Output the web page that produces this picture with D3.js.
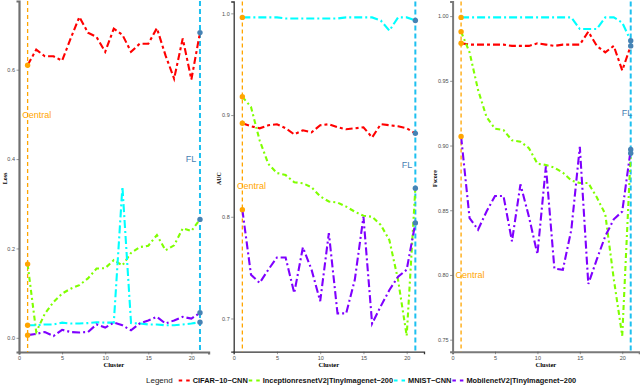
<!DOCTYPE html>
<html>
<head>
<meta charset="utf-8">
<script src="https://cdn.jsdelivr.net/npm/d3@7"></script>
<style>
  html, body { margin: 0; padding: 0; background: #fff; }
  svg { display: block; }
</style>
</head>
<body>
<svg id="chart" width="640" height="385"></svg>
<script>
// ---------------- DATA ----------------
const clusters = [1,2,3,4,5,6,7,8,9,10,11,12,13,14,15,16,17,18,19,20,21];
const seriesNames = ["CIFAR−10−CNN", "InceptionresnetV2|TinyImagenet−200", "MNIST−CNN", "MobilenetV2|TinyImagenet−200"];
const seriesColors = ["#FF0000", "#7FFF00", "#00FFFF", "#7F00FF"];
const metricNames = ["Loss", "AUC", "Fscore"];
const xTicks = [0, 5, 10, 15, 20];
const lossTicks = [0.0, 0.2, 0.4, 0.6];
const aucTicks = [0.7, 0.8, 0.9, 1.0];
const fscoreTicks = [0.75, 0.80, 0.85, 0.90, 0.95, 1.00];
const centralCluster = 1;
const flCluster = 21;

const lossCifar  = [0.610,0.645,0.630,0.630,0.620,0.670,0.718,0.683,0.673,0.640,0.692,0.678,0.640,0.658,0.658,0.693,0.632,0.580,0.670,0.578,0.683];
const lossIncep  = [0.165,0.013,0.054,0.080,0.099,0.110,0.118,0.133,0.155,0.156,0.174,0.162,0.190,0.203,0.206,0.230,0.196,0.207,0.245,0.239,0.265];
const lossMnist  = [0.028,0.028,0.030,0.030,0.034,0.032,0.032,0.033,0.035,0.034,0.034,0.338,0.033,0.032,0.030,0.030,0.028,0.028,0.030,0.032,0.035];
const lossMobile = [0.006,0.009,0.013,0.004,0.018,0.013,0.012,0.013,0.030,0.023,0.034,0.028,0.017,0.032,0.039,0.047,0.032,0.039,0.047,0.043,0.056];

const aucCifar  = [0.892,0.889,0.887,0.890,0.891,0.887,0.881,0.885,0.883,0.890,0.891,0.888,0.886,0.887,0.888,0.878,0.891,0.890,0.889,0.887,0.882];
const aucIncep  = [0.918,0.908,0.875,0.852,0.843,0.841,0.834,0.833,0.829,0.820,0.815,0.814,0.810,0.805,0.801,0.800,0.792,0.777,0.738,0.683,0.828];
const aucMnist  = [0.996,0.996,0.996,0.996,0.996,0.995,0.995,0.995,0.995,0.995,0.995,0.995,0.996,0.996,0.996,0.996,0.993,0.983,0.996,0.996,0.993];
const aucMobile = [0.807,0.743,0.735,0.748,0.760,0.760,0.725,0.770,0.748,0.717,0.784,0.705,0.705,0.738,0.800,0.695,0.712,0.728,0.741,0.748,0.794];

const fCifar  = [0.979,0.978,0.978,0.978,0.978,0.978,0.977,0.977,0.977,0.979,0.978,0.977,0.978,0.978,0.978,0.988,0.977,0.972,0.977,0.958,0.977];
const fIncep  = [0.988,0.972,0.943,0.922,0.913,0.912,0.904,0.903,0.898,0.886,0.885,0.883,0.879,0.873,0.871,0.871,0.860,0.847,0.797,0.753,0.894];
const fMnist  = [0.999,0.999,0.999,0.999,0.999,0.999,0.999,0.999,0.999,0.999,0.999,0.999,0.999,0.999,0.990,0.990,0.990,0.999,0.999,0.995,0.981];
const fMobile = [0.907,0.844,0.835,0.849,0.861,0.861,0.826,0.870,0.845,0.816,0.884,0.805,0.804,0.835,0.899,0.793,0.812,0.830,0.843,0.849,0.897];

// annotation anchor positions (data units) per panel: [x, y]
const centralLabelPos = [[2.05, 0.50], [2.05, 0.830], [2.05, 0.800]];
const flLabelPos      = [[19.95, 0.40], [20.05, 0.851], [20.55, 0.925]];

// ---------------- LAYOUT ----------------
const panelData = [
  [lossCifar, lossIncep, lossMnist, lossMobile],
  [aucCifar, aucIncep, aucMnist, aucMobile],
  [fCifar, fIncep, fMnist, fMobile]
];
const panelTicks = [lossTicks, aucTicks, fscoreTicks];
const panelFmt = [d3.format(".1f"), d3.format(".1f"), d3.format(".2f")];
const panelX = [[19, 208.6], [233.7, 424], [452.6, 639.2]];
const panelY = [[352, 1], [351.7, 1.5], [351.7, 1.5]];
const axisStyle = [
  {color: "#707070", width: 2.2},
  {color: "#333333", width: 1.3},
  {color: "#7a7a7a", width: 2.0}
];
const titleX = [5, 219, 435];
const dashes = ["7,3,3,3", "5,3,2,3", "8,3,2,3", "8,3,2,3"];

const svg = d3.select("#chart");

function expand(ext, f) {
  const w = ext[1] - ext[0];
  return [ext[0] - f * w, ext[1] + f * w];
}

panelData.forEach((seriesList, p) => {
  const g = svg.append("g");
  const x = d3.scaleLinear().domain(expand(d3.extent(clusters), 0.05)).range(panelX[p]);
  const allVals = seriesList.flat();
  const y = d3.scaleLinear().domain(expand(d3.extent(allVals), 0.05)).range(panelY[p]);

  const xAxis = d3.axisBottom(x).tickValues(xTicks).tickSize(2.5).tickPadding(1.5).tickFormat(d3.format("d"));
  const yAxis = d3.axisLeft(y).tickValues(panelTicks[p]).tickSize(2.5).tickPadding(1.5).tickFormat(panelFmt[p]);

  const gx = g.append("g").attr("transform", `translate(0,${panelY[p][0]})`).call(xAxis);
  const gy = g.append("g").attr("transform", `translate(${panelX[p][0]},0)`).call(yAxis);
  [gx, gy].forEach(a => {
    a.select(".domain").attr("stroke", axisStyle[p].color).attr("stroke-width", axisStyle[p].width);
    a.selectAll(".tick line").attr("stroke", "#555").attr("stroke-width", 0.6);
    a.selectAll(".tick text").attr("fill", "#4d4d4d").style("font-family", "Liberation Sans, Arial, sans-serif").style("font-size", "5.5px");
  });

  const yTop = panelY[p][1], yBot = panelY[p][0];
  g.append("line")
    .attr("x1", x(centralCluster)).attr("x2", x(centralCluster))
    .attr("y1", yTop).attr("y2", yBot)
    .attr("stroke", "#FFA500").attr("stroke-width", 1.3).attr("stroke-dasharray", "4,3");
  g.append("line")
    .attr("x1", x(flCluster)).attr("x2", x(flCluster))
    .attr("y1", yTop).attr("y2", yBot)
    .attr("stroke", "#1EC0F0").attr("stroke-width", 2).attr("stroke-dasharray", "5,3");

  const line = d3.line().x((d, i) => x(clusters[i])).y(d => y(d));
  seriesList.forEach((vals, s) => {
    g.append("path")
      .datum(vals)
      .attr("d", line)
      .attr("fill", "none")
      .attr("stroke", seriesColors[s])
      .attr("stroke-width", 2.1)
      .attr("stroke-dasharray", dashes[s]);
  });

  seriesList.forEach((vals) => {
    g.append("circle").attr("cx", x(clusters[0])).attr("cy", y(vals[0])).attr("r", 2.7).attr("fill", "#FFA500");
    g.append("circle").attr("cx", x(clusters[clusters.length - 1])).attr("cy", y(vals[vals.length - 1])).attr("r", 2.7).attr("fill", "#4682B4");
  });

  g.append("text")
    .attr("x", x(centralLabelPos[p][0])).attr("y", y(centralLabelPos[p][1]))
    .attr("dy", "0.35em").attr("text-anchor", "middle")
    .attr("fill", "#FFA500")
    .style("font-family", "Liberation Sans, Arial, sans-serif").style("font-size", "9px")
    .text("Central");
  g.append("text")
    .attr("x", x(flLabelPos[p][0])).attr("y", y(flLabelPos[p][1]))
    .attr("dy", "0.35em").attr("text-anchor", "middle")
    .attr("fill", "#4682B4")
    .style("font-family", "Liberation Sans, Arial, sans-serif").style("font-size", "9px")
    .text("FL");

  g.append("text")
    .attr("transform", `translate(${titleX[p]},${(panelY[p][0] + panelY[p][1]) / 2 + 2}) rotate(-90)`)
    .attr("text-anchor", "middle").attr("dy", "0.35em")
    .style("font-family", "Liberation Serif, Times New Roman, serif").style("font-weight", "bold").style("font-size", "6px")
    .text(metricNames[p]);
  g.append("text")
    .attr("x", (panelX[p][0] + panelX[p][1]) / 2).attr("y", 367)
    .attr("text-anchor", "middle")
    .style("font-family", "Liberation Serif, Times New Roman, serif").style("font-weight", "bold").style("font-size", "6.5px")
    .text("Cluster");
});

// ---------------- LEGEND ----------------
const legend = svg.append("g").attr("transform", "translate(0,380.5)");
const legendTitle = legend.append("text").attr("x", 146).attr("y", 0).attr("dy", "0.35em")
  .attr("fill", "#222")
  .style("font-family", "Liberation Sans, Arial, sans-serif").style("font-size", "8px")
  .text("Legend");
let cx = 146 + legendTitle.node().getComputedTextLength() + 6;
seriesNames.forEach((name, s) => {
  legend.append("line").attr("x1", cx).attr("x2", cx + 11).attr("y1", 0).attr("y2", 0)
    .attr("stroke", seriesColors[s]).attr("stroke-width", 2.2).attr("stroke-dasharray", "3.5,4");
  const t = legend.append("text").attr("x", cx + 14).attr("y", 0).attr("dy", "0.35em")
    .style("font-family", "Liberation Sans, Arial, sans-serif").style("font-weight", "bold").style("font-size", "7.4px")
    .attr("fill", "#111")
    .text(name);
  cx = cx + 14 + t.node().getComputedTextLength() + 1;
});
</script>
</body>
</html>
